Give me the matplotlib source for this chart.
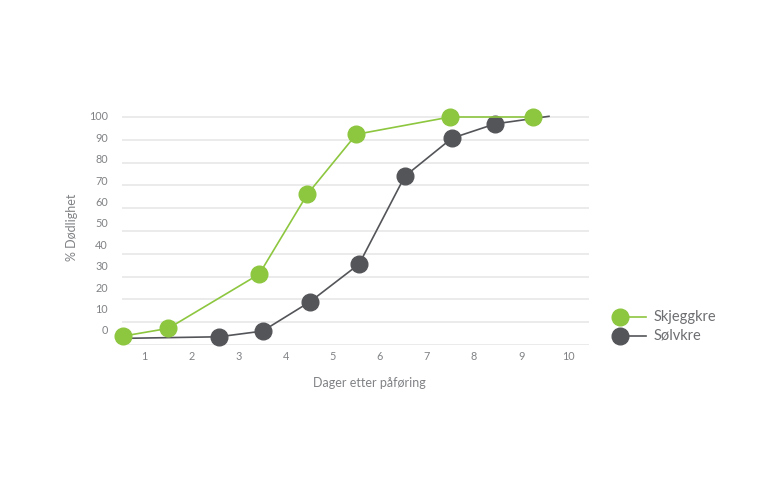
import matplotlib.pyplot as plt
from matplotlib.lines import Line2D

# data
days = [1, 2, 3, 4, 5, 6, 7, 8, 9, 10]
pct_ticks = [0, 10, 20, 30, 40, 50, 60, 70, 80, 90, 100]

skjegg_x = [0.55, 1.51, 3.44, 4.46, 5.50, 7.49, 9.26]
skjegg_y = [3.9, 7.3, 31.1, 66.1, 92.4, 100, 100]

# first and last gray point are line ends with no marker
solv_x = [0.52, 2.58, 3.51, 4.52, 5.56, 6.53, 7.53, 8.45, 9.59]
solv_y = [2.9, 3.6, 6.1, 19.0, 35.5, 74.0, 90.7, 97.0, 100.3]

series = ['Skjeggkre', 'Sølvkre']

green = '#8dc63f'
gray = '#545559'
txt = '#808285'

plt.rcParams['font.family'] = ['Lato', 'DejaVu Sans']

fig = plt.figure(figsize=(7.68, 4.8), dpi=100)
ax = fig.add_axes([121.7 / 768, 1 - 345 / 480, (589 - 121.7) / 768, 235 / 480])
ax.set_xlim(0.52, 10.44)
ax.set_ylim(0, 100 * 235 / 228)

for v in pct_ticks:
    ax.axhline(v, color='#e8e8e8', lw=1.2, zorder=0)

ax.plot(solv_x, solv_y, color=gray, lw=1.2, marker='o', ms=12,
        markevery=list(range(1, len(solv_x) - 1)), clip_on=False, zorder=3)
ax.plot(skjegg_x, skjegg_y, color=green, lw=1.2, marker='o', ms=12,
        clip_on=False, zorder=4)

# tick labels in the original sit a little off the gridlines
ax.set_yticks([6.6 + 0.939 * v for v in pct_ticks])
ax.set_yticklabels([str(v) for v in pct_ticks])
ax.set_xticks(days)
ax.set_xticklabels([str(d) for d in days])
ax.tick_params(axis='both', length=0, labelsize=7.8, labelcolor=txt)
ax.tick_params(axis='y', pad=10)
ax.tick_params(axis='x', pad=4)
for s in ax.spines.values():
    s.set_visible(False)

ax.set_xlabel('Dager etter påføring', fontsize=9, color=txt, labelpad=14)
ax.xaxis.set_label_coords(0.53, -0.135)
ax.set_ylabel('% Dødlighet', fontsize=9, color=txt, labelpad=8)

# legend: marker on the left, short line to the right
for i, (name, col) in enumerate(zip(series, [green, gray])):
    yy = 1 - (317 + 19 * i) / 480
    fig.add_artist(Line2D([620 / 768, 646 / 768], [yy, yy], color=col, lw=1.2,
                          transform=fig.transFigure))
    fig.add_artist(Line2D([620 / 768], [yy], color=col, marker='o', ms=12,
                          transform=fig.transFigure))
    fig.text(654 / 768, yy, name, fontsize=10.5, color='#6d6e71', va='center')

fig.savefig('out.png', dpi=100)
